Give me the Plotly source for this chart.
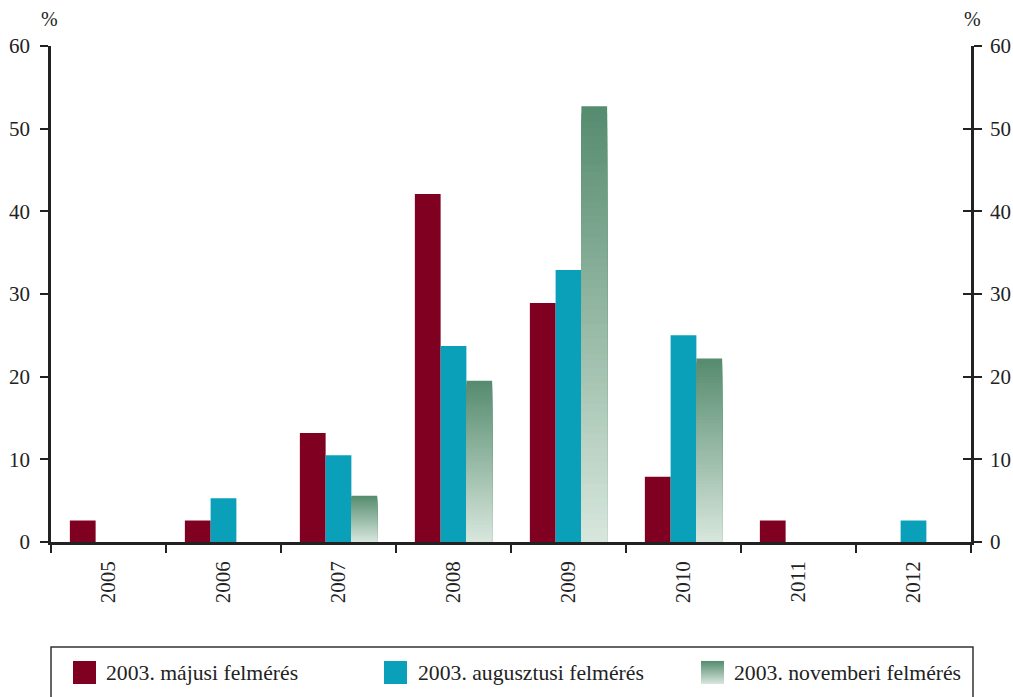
import plotly.graph_objects as go

# ---- data ----
years = ["2005", "2006", "2007", "2008", "2009", "2010", "2011", "2012"]
may_vals = [2.6, 2.6, 13.2, 42.1, 28.9, 7.9, 2.6, 0]
aug_vals = [0, 5.3, 10.5, 23.7, 32.9, 25.0, 0, 2.6]
nov_vals = [0, 0, 5.6, 19.5, 52.7, 22.2, 0, 0]
series_names = ["2003. májusi felmérés", "2003. augusztusi felmérés", "2003. novemberi felmérés"]
y_ticks = [0, 10, 20, 30, 40, 50, 60]

# ---- style ----
FONT = "'Liberation Serif', 'DejaVu Serif', serif"
TXT = "#222222"
RED = "#7F0020"
BLUE = "#0AA0B9"
G_TOP = (0x55, 0x8B, 0x6E)
G_BOT = (0xD8, 0xE7, 0xDD)

W, H = 1013, 697
ML, MR, MT, MB = 51, 42, 46, 155
PW, PH = W - ML - MR, H - MT - MB

def px_x(x):
    return (x - ML) / PW

def px_y(y):
    return (H - MB - y) / PH

def mix(f):
    # f=0 bottom, f=1 top
    c = [round(G_BOT[i] + (G_TOP[i] - G_BOT[i]) * f) for i in range(3)]
    return "rgb(%d,%d,%d)" % tuple(c)

BW = 0.224
offsets = [-1.5 * BW, -0.5 * BW, 0.5 * BW]

fig = go.Figure()
fig.add_trace(go.Bar(x=years, y=may_vals, name=series_names[0], marker=dict(color=RED, line=dict(width=0)),
                     width=BW, offset=offsets[0], showlegend=False))
fig.add_trace(go.Bar(x=years, y=aug_vals, name=series_names[1], marker=dict(color=BLUE, line=dict(width=0)),
                     width=BW, offset=offsets[1], showlegend=False))

# gradient bars: overlapping layers, each layer covers from 0 up to a fraction of the value
N = 60
for k in range(N):
    frac = (N - k) / N
    fig.add_trace(go.Bar(x=years, y=[v * frac for v in nov_vals], name=series_names[2],
                         marker=dict(color=mix((N - k - 0.5) / N), line=dict(width=0)),
                         width=BW, offset=offsets[2], showlegend=False, hoverinfo="skip"))

# dummy traces for right axes
fig.add_trace(go.Scatter(x=[years[0]], y=[None], yaxis="y2", showlegend=False, hoverinfo="skip"))
fig.add_trace(go.Scatter(x=[years[0]], y=[None], yaxis="y3", showlegend=False, hoverinfo="skip"))

axis_common = dict(range=[0, 60], tickvals=y_ticks, showgrid=False, zeroline=False, automargin=False,
                   tickfont=dict(family=FONT, size=21, color=TXT), ticklen=8, tickwidth=2,
                   tickcolor=TXT, linecolor=TXT)

fig.update_layout(
    width=W, height=H,
    margin=dict(l=ML, r=MR, t=MT, b=MB),
    paper_bgcolor="white", plot_bgcolor="white",
    barmode="overlay",
    showlegend=False,
    font=dict(family=FONT, color=TXT),
    xaxis=dict(type="category", categoryorder="array", categoryarray=years, range=[-0.5, 7.5],
               showline=True, linewidth=2.5, linecolor=TXT, ticks="outside", tickson="boundaries",
               ticklen=8, tickwidth=2, tickcolor=TXT, tickangle=-90, showgrid=False, automargin=False,
               tickfont=dict(family=FONT, size=21, color=TXT), ticklabelstandoff=8),
    yaxis=dict(**axis_common, showline=True, linewidth=2.5, ticks="outside", ticklabelstandoff=6),
    yaxis2=dict(**axis_common, overlaying="y", side="right", showline=True, linewidth=2.5,
                ticks="outside", ticklabelstandoff=4),
    yaxis3=dict(**axis_common, overlaying="y", side="right", showline=False, ticks="inside",
                showticklabels=False),
)

# "%" labels
for xp in (px_x(49), px_x(972)):
    fig.add_annotation(x=xp, y=px_y(19), xref="paper", yref="paper", text="%", showarrow=False,
                       font=dict(family=FONT, size=20, color=TXT), xanchor="center", yanchor="middle")

# legend box
fig.add_shape(type="rect", xref="paper", yref="paper", x0=px_x(51), x1=px_x(973), y0=px_y(647), y1=px_y(712),
              line=dict(color="#333333", width=1.5), fillcolor="rgba(0,0,0,0)", layer="above")

sw_top, sw_bot = 661, 684
legend_items = [(73, 104, RED), (384, 416, BLUE), (701, 732, None)]
for (sx, tx, col), name in zip(legend_items, series_names):
    if col is not None:
        fig.add_shape(type="rect", xref="paper", yref="paper", x0=px_x(sx), x1=px_x(sx + 23),
                      y0=px_y(sw_bot), y1=px_y(sw_top), line=dict(width=0), fillcolor=col, layer="above")
    else:
        M = 23
        for i in range(M):
            y0p = sw_bot - i
            fig.add_shape(type="rect", xref="paper", yref="paper", x0=px_x(sx), x1=px_x(sx + 23),
                          y0=px_y(y0p), y1=px_y(y0p - 1.05), line=dict(width=0),
                          fillcolor=mix((i + 0.5) / M), layer="above")
    fig.add_annotation(x=px_x(tx), y=px_y(672.5), xref="paper", yref="paper", text=name, showarrow=False,
                       font=dict(family=FONT, size=21.7, color=TXT), xanchor="left", yanchor="middle")

fig.write_html("out.html")
